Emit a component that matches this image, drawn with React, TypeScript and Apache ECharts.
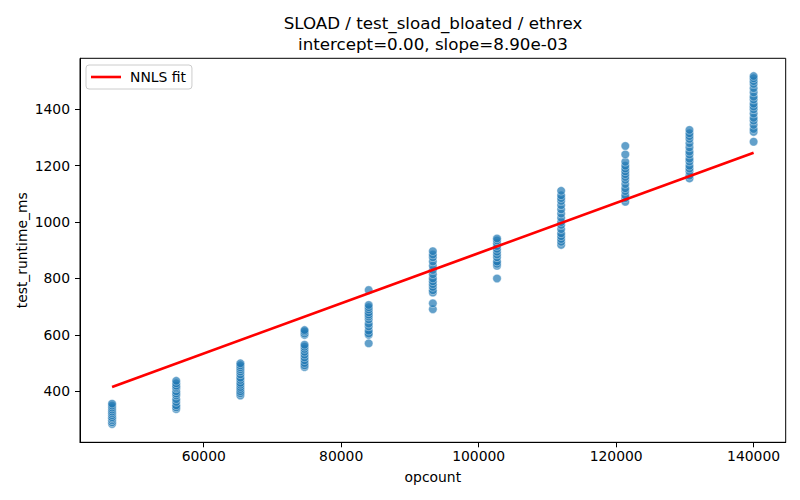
import React, { useEffect, useRef } from "react";
import * as echarts from "echarts";

const titleLines = ["SLOAD / test_sload_bloated / ethrex", "intercept=0.00, slope=8.90e-03"];
const xName = "opcount";
const yName = "test_runtime_ms";
const xTicks = [60000, 80000, 100000, 120000, 140000];
const yTicks = [400, 600, 800, 1000, 1200, 1400];

const opcounts = [46667, 56000, 65333, 74667, 84000, 93333, 102667, 112000, 121333, 130667, 140000];
const runtimes: number[][] = [
  [284, 290, 297, 303, 308, 315, 322, 328, 335, 342, 349, 356],
  [337, 343, 350, 362, 372, 385, 392, 400, 410, 415, 420, 428, 437],
  [385, 393, 400, 408, 415, 423, 430, 440, 448, 460, 470, 478, 485, 492, 499],
  [486, 492, 500, 510, 520, 530, 540, 550, 558, 565, 600, 605, 612, 617],
  [570, 600, 605, 615, 630, 640, 655, 665, 672, 680, 690, 698, 706, 759],
  [691, 712, 750, 758, 770, 780, 790, 800, 815, 830, 845, 860, 875, 885, 897],
  [800, 845, 852, 860, 875, 885, 895, 905, 915, 925, 935, 942],
  [919, 930, 940, 950, 960, 975, 990, 1000, 1015, 1030, 1045, 1060, 1075, 1085, 1095, 1111],
  [1072, 1085, 1095, 1110, 1120, 1135, 1150, 1160, 1170, 1180, 1190, 1200, 1214, 1240, 1270],
  [1155, 1165, 1180, 1190, 1200, 1215, 1225, 1240, 1250, 1265, 1280, 1295, 1305, 1315, 1327],
  [1285, 1320, 1330, 1345, 1360, 1370, 1385, 1400, 1410, 1420, 1435, 1445, 1460, 1475, 1490, 1500, 1510, 1518],
];

const fitName = "NNLS fit";
const fitX = [46667, 140000];
const fitY = [415.3, 1246.0];

const FONT = "DejaVu Sans";

export default function App() {
  const ref = useRef<HTMLDivElement>(null);
  useEffect(() => {
    if (!ref.current) return;
    const chart = echarts.init(ref.current, null, { renderer: "svg" });
    const points = opcounts.flatMap((x, i) => runtimes[i].map((y) => [x, y]));
    const fit = fitX.map((x, i) => [x, fitY[i]]);
    const axisCommon = {
      axisLine: { show: true, lineStyle: { color: "#000", width: 1 } },
      axisTick: { show: true, length: 5, lineStyle: { color: "#000", width: 1 } },
      splitLine: { show: false },
      nameLocation: "middle" as const,
      nameTextStyle: { fontFamily: FONT, fontSize: 13.9, color: "#000" },
    };
    const plain = (v: number) => String(v);
    chart.setOption({
      animation: false,
      backgroundColor: "#fff",
      textStyle: { fontFamily: FONT },
      grid: {
        left: 80,
        right: 14.3,
        top: 58.3,
        bottom: 57.7,
        show: true,
        borderColor: "#000",
        borderWidth: 1,
        backgroundColor: "transparent",
      },
      graphic: titleLines.map((t, i) => ({
        type: "text",
        x: 433,
        y: 23 + i * 20.5,
        style: {
          text: t,
          fontFamily: FONT,
          fontSize: 16.7,
          fill: "#000",
          align: "center",
          verticalAlign: "middle",
        },
      })),
      legend: {
        data: [{ name: fitName, icon: "rect" }],
        left: 86,
        top: 65,
        orient: "vertical",
        itemWidth: 30,
        itemHeight: 2.6,
        padding: [5, 6, 5, 5],
        backgroundColor: "rgba(255,255,255,0.8)",
        borderColor: "#cccccc",
        borderWidth: 1,
        borderRadius: 3,
        textStyle: { fontFamily: FONT, fontSize: 13.9, color: "#000", padding: [0, 0, 0, 4] },
      },
      xAxis: {
        ...axisCommon,
        type: "value",
        min: 42000,
        max: 144667,
        name: xName,
        nameGap: 28,
        axisLabel: {
          customValues: xTicks,
          formatter: plain,
          fontFamily: FONT,
          fontSize: 13.9,
          color: "#000",
          margin: 7,
        },
        axisTick: { ...axisCommon.axisTick, customValues: xTicks },
      },
      yAxis: {
        ...axisCommon,
        type: "value",
        min: 219,
        max: 1581,
        name: yName,
        nameGap: 51,
        nameMoveOverlap: false,
        nameRotate: 90,
        axisLabel: {
          customValues: yTicks,
          formatter: plain,
          fontFamily: FONT,
          fontSize: 13.9,
          color: "#000",
          margin: 10,
        },
        axisTick: { ...axisCommon.axisTick, customValues: yTicks },
      },
      series: [
        {
          type: "scatter",
          name: "runs",
          data: points,
          symbol: "circle",
          symbolSize: 8.5,
          itemStyle: { color: "#1f77b4", borderColor: "#ffffff", borderWidth: 0.6, opacity: 0.7 },
          z: 2,
        },
        {
          type: "line",
          name: fitName,
          data: fit,
          symbol: "none",
          lineStyle: { color: "#ff0000", width: 2.7 },
          itemStyle: { color: "#ff0000" },
          z: 3,
        },
      ],
    });
    return () => chart.dispose();
  }, []);
  return (
    <div
      ref={ref}
      style={{ position: "fixed", left: 0, top: 0, width: 800, height: 500 }}
    />
  );
}
